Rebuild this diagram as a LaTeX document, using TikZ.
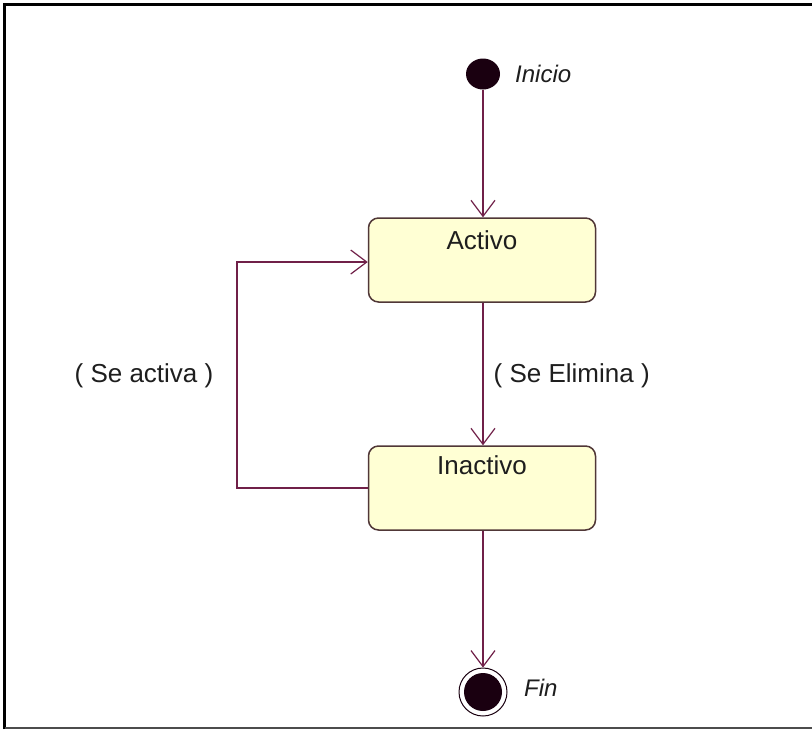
\documentclass[tikz,border=0pt]{standalone}
\usepackage{fontspec}
\setmainfont{Liberation Sans}
\usetikzlibrary{arrows.meta,shapes.geometric}
\definecolor{edgec}{RGB}{112,32,72}
\definecolor{boxc}{RGB}{80,55,55}
\definecolor{fillc}{RGB}{255,255,212}
\definecolor{dotc}{RGB}{26,0,16}
\definecolor{txtc}{RGB}{30,30,30}
\begin{document}
\begin{tikzpicture}[x=1pt,y=-1pt,
 state/.style={draw=boxc, fill=fillc, rounded corners=10pt, line width=1.5pt, minimum width=227pt, minimum height=84pt, inner sep=0pt},
 conn/.style={draw=edgec, line width=1.4pt, -{Straight Barb[length=16pt,width=24pt,line width=1.2pt]}},
 lbl/.style={font=\fontsize{26}{30}\selectfont, text=txtc, inner sep=0pt},
 ilbl/.style={font=\fontsize{24}{28}\selectfont\itshape, text=txtc, inner sep=0pt, anchor=west}]
\useasboundingbox (0,0) rectangle (812,729);
\fill[white] (0,0) rectangle (812,729);
\draw[line width=3.5pt] (4.5,729) -- (4.5,4.5) -- (812,4.5);
\draw[black!70, line width=2pt] (4.5,728) -- (812,728);
% start
\node[ellipse, fill=dotc, minimum width=34pt, minimum height=31pt, inner sep=0pt] (start) at (483,74) {};
\node[ilbl] (inicio) at (515,74) {Inicio};
% states
\node[state] (activo) at (482,260) {};
\node[lbl] (activot) at (482,240) {Activo};
\node[state] (inactivo) at (482,488) {};
\node[lbl] (inactivot) at (482,465) {Inactivo};
% end
\node[circle, draw=dotc, line width=1pt, minimum size=48pt, inner sep=0pt] (fin) at (483,692) {};
\node[circle, fill=dotc, minimum size=38pt, inner sep=0pt] (findot) at (fin.center) {};
\node[ilbl] (fint) at (524,688) {Fin};
% connectors
\draw[conn] (start) -- (activo.north -| start);
\draw[conn] (activo.south -| start) -- node[lbl, anchor=west, xshift=10pt, yshift=-2pt] (elim) {( Se Elimina )} (inactivo.north -| start);
\coordinate (lb) at (237,488);
\coordinate (lt) at (237,262);
\draw[conn] (inactivo.west |- lb) -- (lb) -- (lt) -- (activo.west |- lt);
\node[lbl] (activa) at (144,376) {( Se activa )};
\draw[conn] (inactivo.south -| start) -- (fin.north);
\end{tikzpicture}
\end{document}
